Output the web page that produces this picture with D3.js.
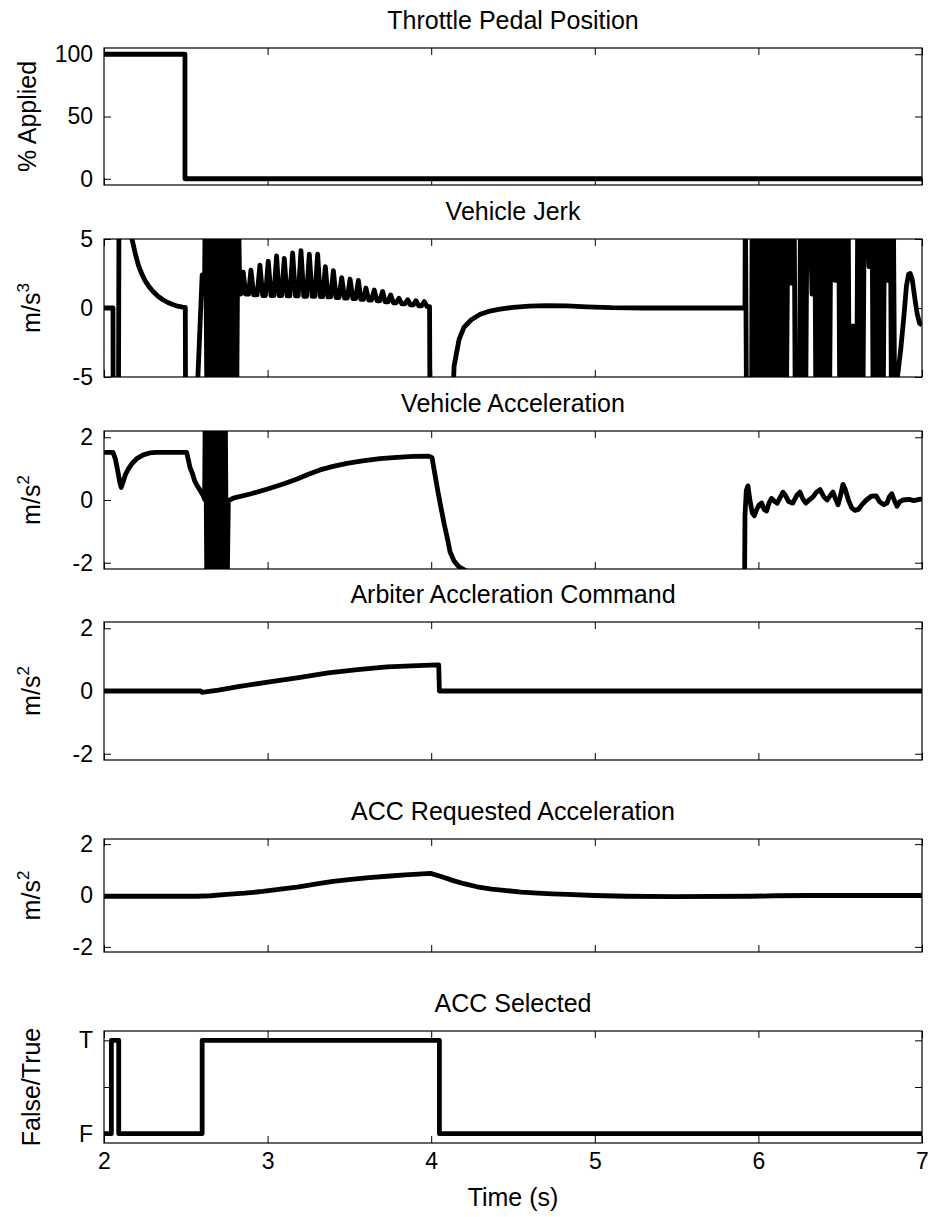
<!DOCTYPE html>
<html>
<head>
<meta charset="utf-8">
<script src="https://cdn.jsdelivr.net/npm/d3@7"></script>
<style>
  html, body { margin: 0; padding: 0; background: #fff; }
  svg { display: block; }
  text { font-family: "Liberation Sans", Arial, Helvetica, sans-serif; fill: #000; }
</style>
</head>
<body>
<svg id="chart" width="930" height="1217"></svg>
<script>
// ---- time axis ----
const timeDomain = [2, 7];
const timeTicks = [2, 3, 4, 5, 6, 7];

// ---- throttle pedal position (% applied) ----
const throttle = [[2.0, 100], [2.495, 100], [2.495, 0], [7.0, 0]];

// ---- vehicle jerk (m/s^3); values beyond +/-5 run off the axes ----
const jerk = [
  [2.000, 0], [2.055, 0], [2.056, -9], [2.088, -9], [2.092, 9], [2.165, 9],
  [2.171, 5.0], [2.19, 4.0], [2.21, 3.1], [2.23, 2.5], [2.25, 2.0], [2.275, 1.55],
  [2.30, 1.2], [2.33, 0.85], [2.36, 0.6], [2.39, 0.4], [2.42, 0.25], [2.45, 0.13],
  [2.48, 0.06], [2.497, 0.04], [2.499, -9], [2.560, -9], [2.600, 2.4], [2.615, 2.4],
  [2.620, 9], [2.630, -9], [2.640, 9], [2.650, -9], [2.660, 9], [2.670, -9], [2.680, 9],
  [2.690, -9], [2.700, 9], [2.710, -9], [2.720, 9], [2.730, -9], [2.740, 9], [2.750, -9],
  [2.760, 9], [2.770, -9], [2.780, 9], [2.790, -9], [2.800, 9], [2.810, -9], [2.820, 9],
  [2.830, 1.0], [2.840, 1.05],
  [2.851, 2.6], [2.866, 1.0], [2.884, 1.0],
  [2.898, 2.75], [2.915, 0.95], [2.936, 0.95],
  [2.953, 3.1], [2.970, 0.9], [2.987, 0.9],
  [3.004, 3.4], [3.021, 0.9], [3.038, 0.9],
  [3.055, 3.77], [3.070, 0.9], [3.086, 0.9],
  [3.102, 3.6], [3.119, 0.88], [3.136, 0.88],
  [3.153, 4.0], [3.170, 0.88], [3.187, 0.88],
  [3.204, 4.15], [3.221, 0.85], [3.238, 0.85],
  [3.255, 3.9], [3.272, 0.85], [3.289, 0.85],
  [3.306, 3.9], [3.322, 0.82], [3.337, 0.82],
  [3.353, 3.0], [3.369, 0.8], [3.386, 0.8],
  [3.402, 2.7], [3.419, 0.75], [3.436, 0.75],
  [3.453, 2.2], [3.470, 0.72], [3.487, 0.72],
  [3.504, 2.1], [3.521, 0.68], [3.538, 0.68],
  [3.555, 2.0], [3.570, 0.62], [3.586, 0.62],
  [3.601, 1.45], [3.618, 0.58], [3.635, 0.58],
  [3.652, 1.3], [3.669, 0.52], [3.686, 0.52],
  [3.703, 1.2], [3.719, 0.45], [3.736, 0.45],
  [3.752, 0.95], [3.769, 0.38], [3.786, 0.38],
  [3.803, 0.7], [3.821, 0.3], [3.839, 0.3],
  [3.856, 0.6], [3.873, 0.22], [3.890, 0.22],
  [3.907, 0.53], [3.924, 0.15], [3.941, 0.15],
  [3.958, 0.46], [3.975, 0.1], [3.990, 0.1], [3.993, -9],
  [4.125, -9], [4.14, -4.2], [4.17, -2.3], [4.20, -1.4], [4.245, -0.85], [4.30, -0.45],
  [4.35, -0.25], [4.42, -0.08], [4.50, 0.05], [4.60, 0.14], [4.70, 0.17], [4.83, 0.15],
  [4.95, 0.08], [5.10, 0.02], [5.30, 0.0], [5.918, 0.0],
  [5.920, 9], [5.928, -9], [5.958, -9], [5.962, 9], [5.970, -9], [5.980, 9], [5.990, -9],
  [6.000, 9], [6.010, -9], [6.020, 9], [6.030, -9], [6.040, 9], [6.050, -9], [6.060, 9],
  [6.070, -9], [6.080, 9], [6.090, -9], [6.100, 9], [6.110, -9], [6.120, 9], [6.130, -9],
  [6.140, 9], [6.150, -9], [6.160, 9], [6.170, -9], [6.182, 9],
  [6.200, 1.8], [6.218, 9], [6.226, -9], [6.238, -3.0], [6.250, -9], [6.258, 9], [6.268, -9],
  [6.278, 9], [6.288, -9], [6.298, 9], [6.312, 9], [6.328, 1.0], [6.344, 9], [6.352, -9],
  [6.362, 9], [6.372, -9], [6.382, 9], [6.392, -9], [6.402, 9], [6.412, -9], [6.424, 9],
  [6.434, -9], [6.444, 9], [6.468, 2.0], [6.490, 9], [6.498, -9], [6.508, 9], [6.518, -9],
  [6.528, 9], [6.538, -9], [6.548, 9], [6.556, -9], [6.578, -1.3], [6.600, -9], [6.608, 9],
  [6.618, -9], [6.628, 9], [6.638, -9], [6.648, 9], [6.658, 9], [6.676, 3.0], [6.694, 9],
  [6.702, -9], [6.712, 9], [6.722, -9], [6.732, 9], [6.742, -9], [6.752, 9], [6.762, -9],
  [6.772, 9], [6.790, 2.0], [6.806, 9], [6.814, -9], [6.824, 9], [6.834, -9],
  [6.845, -5.5], [6.870, -3.0], [6.890, -0.5], [6.905, 1.6], [6.918, 2.45], [6.928, 2.5],
  [6.940, 2.1], [6.955, 0.8], [6.970, -0.4], [6.985, -1.1], [7.000, -1.25]
];

// ---- vehicle acceleration (m/s^2) ----
const accel = [
  [2.000, 1.52], [2.055, 1.52], [2.07, 1.3], [2.085, 0.9], [2.097, 0.55], [2.105, 0.4],
  [2.115, 0.55], [2.13, 0.8], [2.15, 1.0], [2.17, 1.15], [2.20, 1.32], [2.24, 1.44],
  [2.28, 1.5], [2.32, 1.52], [2.505, 1.52], [2.515, 1.3], [2.525, 1.05], [2.54, 0.85],
  [2.555, 0.6], [2.57, 0.45], [2.585, 0.33], [2.595, 0.24], [2.605, 0.15], [2.615, 0.02],
  [2.620, 4], [2.630, -4], [2.640, 4], [2.650, -4], [2.660, 4], [2.670, -4], [2.680, 4],
  [2.690, -4], [2.700, 4], [2.710, -4], [2.720, 4], [2.730, -4], [2.740, 4], [2.750, -4],
  [2.760, -0.03], [2.79, 0.06], [2.90, 0.2], [3.00, 0.35], [3.10, 0.52], [3.18, 0.67],
  [3.25, 0.82], [3.32, 0.96], [3.40, 1.07], [3.485, 1.17], [3.58, 1.25], [3.687, 1.32],
  [3.79, 1.36], [3.89, 1.39], [3.985, 1.4], [4.005, 1.35], [4.02, 0.9], [4.04, 0.3],
  [4.06, -0.25], [4.08, -0.78], [4.10, -1.25], [4.115, -1.65], [4.14, -1.95], [4.17, -2.13],
  [4.21, -2.25], [4.30, -3], [5.915, -3],
  [5.918, -0.5], [5.926, 0.3], [5.936, 0.45], [5.948, 0.0], [5.962, -0.4], [5.975, -0.5],
  [5.99, -0.3], [6.005, -0.15], [6.02, -0.1], [6.035, -0.3], [6.05, -0.35], [6.065, -0.1],
  [6.08, 0.05], [6.10, -0.05], [6.115, -0.1], [6.135, 0.1], [6.15, 0.25], [6.165, 0.15],
  [6.185, -0.05], [6.21, -0.1], [6.235, 0.15], [6.254, 0.25], [6.27, 0.05], [6.29, -0.1],
  [6.31, 0.0], [6.334, 0.1], [6.355, 0.25], [6.377, 0.33], [6.40, 0.1], [6.42, 0.0],
  [6.44, 0.15], [6.456, 0.25], [6.47, 0.05], [6.487, -0.15], [6.50, 0.1], [6.517, 0.5],
  [6.53, 0.35], [6.55, 0.0], [6.57, -0.25], [6.59, -0.33], [6.61, -0.3], [6.633, -0.15],
  [6.66, 0.0], [6.69, 0.12], [6.72, 0.13], [6.74, -0.05], [6.765, -0.15], [6.786, -0.1],
  [6.80, 0.1], [6.815, 0.2], [6.83, 0.0], [6.847, -0.2], [6.865, -0.05], [6.885, 0.0],
  [6.92, 0.02], [6.95, -0.02], [6.99, 0.03], [7.0, 0.02]
];

// ---- arbiter acceleration command (m/s^2) ----
const arbiter = [
  [2.0, 0], [2.59, 0], [2.60, -0.04], [2.62, -0.03], [2.70, 0.03], [2.82, 0.14],
  [3.0, 0.28], [3.19, 0.43], [3.37, 0.58], [3.55, 0.68], [3.73, 0.77], [3.915, 0.81],
  [4.04, 0.83], [4.046, 0.83], [4.05, 0], [7.0, 0]
];

// ---- ACC requested acceleration (m/s^2) ----
const accRequested = [
  [2.0, -0.03], [2.57, -0.03], [2.65, -0.01], [2.75, 0.04], [2.86, 0.09], [2.97, 0.16],
  [3.08, 0.25], [3.19, 0.34], [3.30, 0.45], [3.40, 0.55], [3.51, 0.63], [3.62, 0.70],
  [3.73, 0.75], [3.84, 0.80], [3.92, 0.83], [3.996, 0.86], [4.06, 0.74], [4.135, 0.58],
  [4.20, 0.46], [4.28, 0.34], [4.37, 0.25], [4.46, 0.19], [4.55, 0.13], [4.65, 0.09],
  [4.74, 0.06], [4.83, 0.04], [5.0, 0.0], [5.19, -0.03], [5.48, -0.04], [5.955, -0.03],
  [6.10, -0.01], [6.30, 0.0], [7.0, 0.0]
];

// ---- ACC selected (0 = False, 1 = True) ----
const accSelected = [
  [2.0, 0], [2.045, 0], [2.045, 1], [2.09, 1], [2.09, 0], [2.60, 0], [2.60, 1],
  [4.05, 1], [4.05, 0], [7.0, 0]
];

// ---- y tick values and labels ----
const pctTicks = [0, 50, 100];
const jerkTicks = [-5, 0, 5];
const accelTicks = [-2, 0, 2];
const boolTicks = [0, 0.5, 1];
const boolLabels = { 0: "F", 0.5: "", 1: "T" };

// plain hyphen-minus for negative tick labels
const numFmt = d => String(d);

// ---- panel definitions ----
const panels = [
  { title: "Throttle Pedal Position", ylabel: ["% Applied"], data: throttle, ylim: [-5, 105], ticks: pctTicks, top: 48, bottom: 185 },
  { title: "Vehicle Jerk", ylabel: ["m/s", "3"], data: jerk, ylim: [-5, 5], ticks: jerkTicks, top: 239, bottom: 377 },
  { title: "Vehicle Acceleration", ylabel: ["m/s", "2"], data: accel, ylim: [-2.2, 2.2], ticks: accelTicks, top: 431, bottom: 569 },
  { title: "Arbiter Accleration Command", ylabel: ["m/s", "2"], data: arbiter, ylim: [-2.2, 2.2], ticks: accelTicks, top: 622, bottom: 760 },
  { title: "ACC Requested Acceleration", ylabel: ["m/s", "2"], data: accRequested, ylim: [-2.2, 2.2], ticks: accelTicks, top: 839, bottom: 952 },
  { title: "ACC Selected", ylabel: ["False/True"], data: accSelected, ylim: [-0.1, 1.1], ticks: boolTicks, fmt: d => boolLabels[d], top: 1031, bottom: 1143 }
];

const X0 = 104, X1 = 922;
const TICK = 7;
const svg = d3.select("#chart");
const x = d3.scaleLinear().domain(timeDomain).range([X0, X1]);

panels.forEach((p, i) => {
  const y = d3.scaleLinear().domain(p.ylim).range([p.bottom, p.top]);
  const g = svg.append("g");
  const clipId = "clip" + i;
  svg.append("clipPath").attr("id", clipId)
    .append("rect").attr("x", X0).attr("y", p.top).attr("width", X1 - X0).attr("height", p.bottom - p.top);

  // white plot area
  g.append("rect").attr("x", X0).attr("y", p.top).attr("width", X1 - X0).attr("height", p.bottom - p.top)
    .attr("fill", "#fff");

  // signal trace
  const line = d3.line().x(d => x(d[0])).y(d => y(d[1]));
  g.append("path").datum(p.data)
    .attr("clip-path", `url(#${clipId})`)
    .attr("d", line)
    .attr("fill", "none").attr("stroke", "#000").attr("stroke-width", 4.8)
    .attr("stroke-linejoin", "round").attr("stroke-linecap", "butt");

  const isLast = i === panels.length - 1;
  const fmt = p.fmt || numFmt;

  // axes with inward ticks on all four sides
  const bottomAxis = d3.axisBottom(x).tickValues(timeTicks).tickSizeInner(-TICK).tickSizeOuter(0)
    .tickPadding(10).tickFormat(isLast ? numFmt : "");
  const topAxis = d3.axisTop(x).tickValues(timeTicks).tickSizeInner(-TICK).tickSizeOuter(0).tickFormat("");
  const leftAxis = d3.axisLeft(y).tickValues(p.ticks).tickSizeInner(-TICK).tickSizeOuter(0)
    .tickPadding(11).tickFormat(fmt);
  const rightAxis = d3.axisRight(y).tickValues(p.ticks).tickSizeInner(-TICK).tickSizeOuter(0).tickFormat("");

  const axes = [
    g.append("g").attr("transform", `translate(0,${p.bottom})`).call(bottomAxis),
    g.append("g").attr("transform", `translate(0,${p.top})`).call(topAxis),
    g.append("g").attr("transform", `translate(${X0},0)`).call(leftAxis),
    g.append("g").attr("transform", `translate(${X1},0)`).call(rightAxis)
  ];
  axes.forEach(a => {
    a.select(".domain").remove();
    a.selectAll(".tick line").attr("stroke", "#000").attr("stroke-width", 1);
    a.selectAll(".tick text").attr("font-size", 23)
      .attr("font-family", '"Liberation Sans", Arial, Helvetica, sans-serif').attr("fill", "#000");
  });

  // axes box
  g.append("rect").attr("x", X0).attr("y", p.top).attr("width", X1 - X0).attr("height", p.bottom - p.top)
    .attr("fill", "none").attr("stroke", "#000").attr("stroke-width", 1.2);

  // title
  g.append("text").attr("x", (X0 + X1) / 2).attr("y", p.top - 19)
    .attr("text-anchor", "middle").attr("font-size", 25).text(p.title);

  // y label (rotated)
  const cy = (p.top + p.bottom) / 2;
  const lx = i === 0 ? 36 : 40;
  const yl = g.append("text")
    .attr("transform", `translate(${lx},${cy}) rotate(-90)`)
    .attr("text-anchor", "middle").attr("font-size", 25);
  yl.append("tspan").text(p.ylabel[0]);
  if (p.ylabel[1]) {
    yl.append("tspan").attr("font-size", 17).attr("dy", -11).text(p.ylabel[1]);
  }
});

// x-axis label
svg.append("text").attr("x", (X0 + X1) / 2).attr("y", 1206)
  .attr("text-anchor", "middle").attr("font-size", 25).text("Time (s)");
</script>
</body>
</html>
